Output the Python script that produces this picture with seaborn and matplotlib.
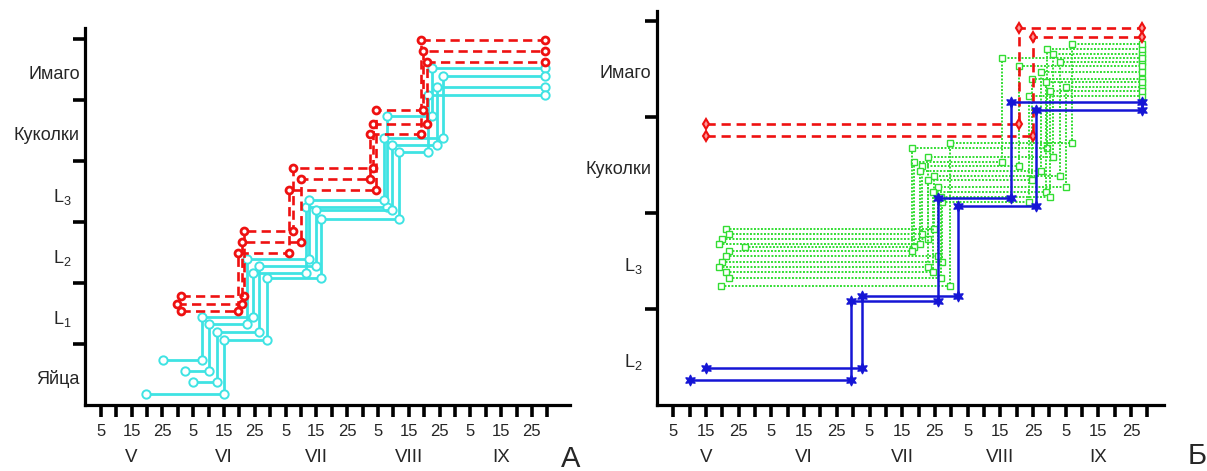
import numpy as np
import pandas as pd
import matplotlib
matplotlib.use('Agg')
import matplotlib.pyplot as plt
import seaborn as sns

# ---------------- data ----------------
MONTHS = ['V', 'VI', 'VII', 'VIII', 'IX']
DAY_LABELS = [5, 15, 25]

A_STAGES = ['Яйца', 'L$_1$', 'L$_2$', 'L$_3$', 'Куколки', 'Имаго']
B_STAGES = ['L$_2$', 'L$_3$', 'Куколки', 'Имаго']

# day counted from 1 May (30-day months); stage-change dates per individual
a_cyan_dates = [[25.3, 38.0, 54.4, 71.6, 97.9, 112.6, 149.3],
                [32.4, 40.1, 52.6, 72.6, 96.9, 116.1, 149.3],
                [34.9, 42.7, 56.5, 74.8, 99.5, 114.2, 149.3],
                [19.7, 45.1, 59.0, 76.5, 101.9, 111.3, 149.3]]
a_cyan_rows = [[0.74, 0.44, 0.17, 0.25, 0.73, 0.52],
               [0.56, 0.32, 0.40, 0.36, 0.38, 0.40],
               [0.37, 0.19, 0.28, 0.19, 0.27, 0.22],
               [0.18, 0.07, 0.09, 0.05, 0.14, 0.08]]

a_red_dates = [[31.1, 51.6, 67.4, 93.5, 110.8, 149.3],
               [29.9, 51.0, 69.9, 92.4, 109.0, 149.3],
               [31.1, 49.7, 66.2, 94.4, 109.5, 149.3]]
a_red_rows = [[0.78, 0.86, 0.89, 0.61, 0.63],
              [0.66, 0.68, 0.70, 0.45, 0.99],
              [0.54, 0.50, 0.53, 0.84, 0.81]]

b_blue_dates = [[10.0, 59.3, 86.0, 108.2, 148.3],
                [15.1, 62.8, 92.0, 115.8, 148.3]]
b_blue_rows = [[0.26, 0.08, 0.16, 0.16],
               [0.39, 0.14, 0.07, 0.07]]

b_red_dates = [[15.1, 110.8, 148.3],
               [15.1, 115.1, 148.3]]
b_red_rows = [[0.93, 0.93],
              [0.80, 0.83]]

b_green_dates = [[21, 84.7, 123.2, 148.3],
                 [22, 81.0, 110.8, 148.3],
                 [20, 82.9, 121.1, 148.3],
                 [19, 80.4, 117.4, 148.3],
                 [27, 78.7, 105.6, 148.3],
                 [22, 78.1, 119.2, 148.3],
                 [21, 85.9, 125.2, 148.3],
                 [20, 87.2, 113.8, 148.3],
                 [19, 82.8, 114.7, 148.3],
                 [21, 84.5, 119.1, 148.3],
                 [22, 86.8, 120.2, 148.3],
                 [19.5, 89.6, 126.9, 148.3]]
b_green_rows = [[0.83, 0.39, 0.57],
                [0.78, 0.49, 0.53],
                [0.73, 0.58, 0.66],
                [0.68, 0.44, 0.47],
                [0.65, 0.53, 0.61],
                [0.60, 0.68, 0.71],
                [0.55, 0.27, 0.31],
                [0.49, 0.11, 0.22],
                [0.44, 0.34, 0.40],
                [0.39, 0.22, 0.36],
                [0.32, 0.17, 0.27],
                [0.24, 0.73, 0.76]]

# ---------------- style ----------------
sns.set_theme(style='ticks')
plt.rcParams['font.family'] = ['Liberation Sans', 'DejaVu Sans']
plt.rcParams['mathtext.fontset'] = 'custom'
plt.rcParams['mathtext.rm'] = 'Liberation Sans'
plt.rcParams['mathtext.it'] = 'Liberation Sans:italic'
plt.rcParams['mathtext.default'] = 'regular'

CYAN = '#3fe3e3'
RED = '#ee1111'
BLUE = '#1515d5'
GREEN = '#33dd33'


def paths(dates_list, rows_list, first_stage):
    recs = []
    for k, (t, rws) in enumerate(zip(dates_list, rows_list)):
        for i, fr in enumerate(rws):
            lvl = first_stage + i + fr
            recs.append((k, t[i], lvl))
            recs.append((k, t[i + 1], lvl))
    return pd.DataFrame(recs, columns=['id', 'day', 'level'])


def draw(ax, df, color, ls, lw, marker, ms, mfc, mew, z):
    sns.lineplot(data=df, x='day', y='level', units='id', estimator=None,
                 sort=False, color=color, linestyle=ls, linewidth=lw,
                 marker=marker, markersize=ms, markerfacecolor=mfc,
                 markeredgecolor=color, markeredgewidth=mew, ax=ax, zorder=z)


def style_axes(ax, stages, xmax, ymax):
    ax.set_xlim(0, xmax)
    ax.set_ylim(0, ymax)
    sns.despine(ax=ax)
    for s in ['left', 'bottom']:
        ax.spines[s].set_linewidth(2.3)
        ax.spines[s].set_color('black')
    ticks = np.arange(5, 151, 5)
    ax.set_xticks(ticks)
    ax.set_xticklabels([str(d % 30) if d % 30 in DAY_LABELS else '' for d in ticks])
    ax.tick_params(axis='x', length=8.5, width=2.6, direction='out',
                   labelsize=12, pad=5, color='black')
    ax.set_yticks(np.arange(1, len(stages) + 1))
    ax.set_yticklabels([])
    ax.tick_params(axis='y', which='major', length=8.5, width=2.6,
                   direction='out', color='black')
    ax.set_ylabel('')
    ax.set_xlabel('')
    # stage names centred in each band (larval names sit a little further left)
    for i, name in enumerate(stages):
        dx = -10 if name.startswith('L') else -4
        ax.annotate(name, xy=(0, i + 0.5), xycoords=('axes fraction', 'data'),
                    xytext=(dx, -2), textcoords='offset points',
                    ha='right', va='center_baseline', fontsize=13)
    for m, name in enumerate(MONTHS):
        ax.annotate(name, xy=(30 * m + 15, 0), xycoords=('data', 'axes fraction'),
                    xytext=(0, -38), textcoords='offset points',
                    ha='center', va='center', fontsize=13.5)


fig = plt.figure(figsize=(12.07, 4.71), dpi=100)
axA = fig.add_axes([0.0707, 0.1401, 0.4019, 0.8004])
axB = fig.add_axes([0.5443, 0.1401, 0.4199, 0.8357])

# Panel A
draw(axA, paths(a_cyan_dates, a_cyan_rows, 0), CYAN, '-', 2.0, 'o', 6, 'white', 1.4, 3)
draw(axA, paths(a_red_dates, a_red_rows, 1), RED, (0, (3.5, 2)), 1.9, 'o', 5, 'white', 2.0, 4)
style_axes(axA, A_STAGES, 157.5, 6.18)

# Panel B
draw(axB, paths(b_green_dates, b_green_rows, 1), GREEN, (0, (1, 0.8)), 1.4, 's', 3.8, 'white', 1.0, 2)
draw(axB, paths(b_red_dates, b_red_rows, 2), RED, (0, (3.5, 2.2)), 1.9, 'd', 5.5, '#ff9999', 1.5, 3)
draw(axB, paths(b_blue_dates, b_blue_rows, 0), BLUE, '-', 1.8, (6, 1, 0), 8, BLUE, 0.8, 4)
style_axes(axB, B_STAGES, 155, 4.1)

fig.text(571 / 1207, 1 - 459 / 471, 'А', fontsize=21, ha='center', va='center')
fig.text(1197 / 1207, 1 - 456 / 471, 'Б', fontsize=21, ha='center', va='center')

fig.savefig('out.png', dpi=100)
